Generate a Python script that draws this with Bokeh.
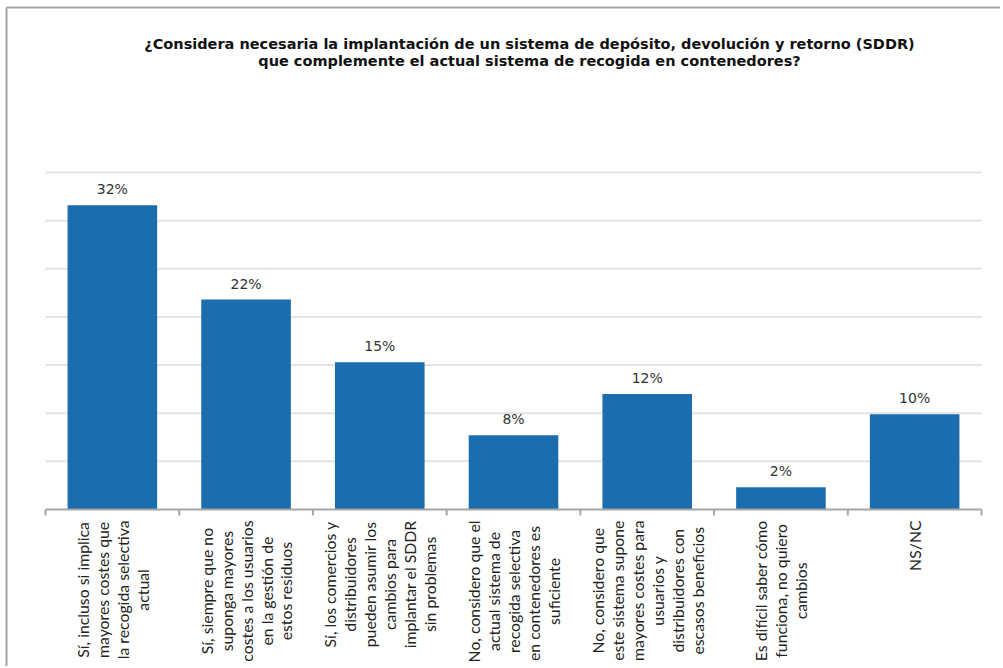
import math
from bokeh.plotting import figure
from bokeh.models import Range1d, ColumnDataSource
from bokeh.embed import file_html
from bokeh.resources import INLINE
from bokeh.core.properties import value

# ---- data ----
categories = [
    "Sí, incluso si implica\nmayores costes que\nla recogida selectiva\nactual",
    "Sí, siempre que no\nsuponga mayores\ncostes a los usuarios\nen la gestión de\nestos residuos",
    "Sí, los comercios y\ndistribuidores\npueden asumir los\ncambios para\nimplantar el SDDR\nsin problemas",
    "No, considero que el\nactual sistema de\nrecogida selectiva\nen contenedores  es\nsuficiente",
    "No, considero que\neste sistema supone\nmayores costes para\nusuarios y\ndistribuidores con\nescasos beneficios",
    "Es difícil saber cómo\nfunciona, no quiero\ncambios",
    "NS/NC",
]
values = [31.6, 21.8, 15.3, 7.7, 12.0, 2.3, 9.9]
value_labels = [f"{v:.0f}%" for v in values]
grid_ticks = [5, 10, 15, 20, 25, 30, 35]
title_lines = [
    "¿Considera necesaria la implantación de un sistema de depósito, devolución y retorno (SDDR)",
    "que complemente el actual sistema de recogida en contenedores?",
]

n = len(categories)
y_max = grid_ticks[-1]
centers = [i + 0.5 for i in range(n)]      # slot centres on a 0..n category scale
edges = list(range(n + 1))                 # slot boundaries (tick marks)

# ---- layout (pixels) ----
W, H = 1000, 666
left, right, top, bottom = 45, W - 981, 172, H - 509   # plot-area margins inside the canvas
xpx = (W - left - right) / n
ypx = (H - top - bottom) / y_max
x_range = Range1d(-left / xpx, n + right / xpx)
y_range = Range1d(-bottom / ypx, y_max + top / ypx)

p = figure(width=W, height=H, x_range=x_range, y_range=y_range,
           output_backend="svg", toolbar_location=None,
           x_axis_location=None, y_axis_location=None,
           min_border=0, min_border_left=0, min_border_right=0,
           min_border_top=0, min_border_bottom=0)
p.outline_line_color = None
p.grid.visible = False
p.background_fill_color = "white"
p.border_fill_color = "white"

# outer frame (top and left edges of the chart box)
bx = (6 - left) / xpx
by = y_max + (top - 7) / ypx
p.segment(x0=[bx, bx], y0=[by, by], x1=[x_range.end, bx], y1=[by, y_range.start],
          line_color="#a3a3a3", line_width=2)

# horizontal gridlines
p.segment(x0=[0] * len(grid_ticks), x1=[n] * len(grid_ticks), y0=grid_ticks, y1=grid_ticks,
          line_color="#e3e3e3", line_width=2)

# bars + value labels
src = ColumnDataSource(dict(x=centers, top=values, lab=value_labels))
p.vbar(x="x", top="top", width=0.67, source=src, fill_color="#1b6dad", line_color=None)
p.text(x="x", y="top", text="lab", source=src, text_align="center", text_baseline="bottom",
       y_offset=-8, text_font=value("DejaVu Sans"), text_font_size="14px", text_color="#333333")

# category axis: baseline and tick marks at slot boundaries
p.segment(x0=[0], x1=[n], y0=[0], y1=[0], line_color="#a6a6a6", line_width=2)
p.ray(x=edges, y=[0] * len(edges), length=6, length_units="screen", angle=-math.pi / 2,
      line_color="#a6a6a6", line_width=2)

# rotated, centred multi-line category labels hanging below the axis
p.text(x=centers, y=[0] * n, text=categories, y_offset=11, angle=math.pi / 2,
       anchor="center_right", text_align="center",
       text_font=value("Lato"), text_font_size="15.8px",
       text_line_height=1.05, text_color="#222222")

# title (two lines)
p.text(x=[n / 2] * 2, y=[y_max] * 2, text=title_lines, x_offset=16,
       y_offset=[-129, -112], text_align="center", text_baseline="middle",
       text_font=value("DejaVu Sans"), text_font_style="bold",
       text_font_size="14.5px", text_color="#111111")

open("out.html", "w").write(file_html(p, INLINE))
